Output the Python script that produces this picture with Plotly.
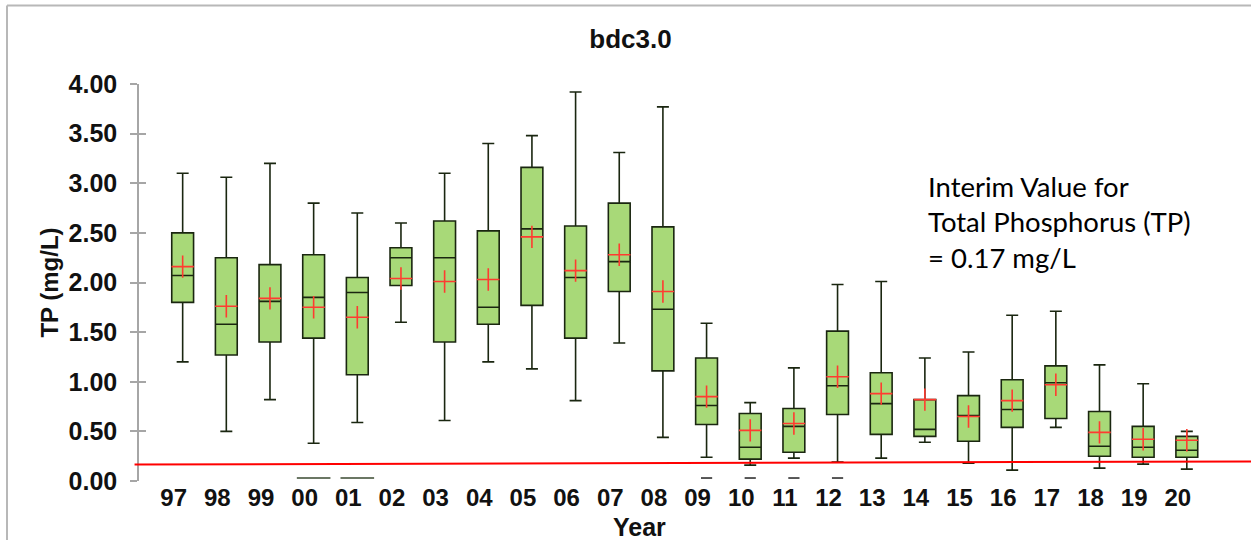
import plotly.graph_objects as go

# ---------------- data ----------------
years = ["97", "98", "99", "00", "01", "02", "03", "04", "05", "06", "07", "08",
         "09", "10", "11", "12", "13", "14", "15", "16", "17", "18", "19", "20"]
whisker_low = [1.20, 0.50, 0.82, 0.38, 0.59, 1.60, 0.61, 1.20, 1.13, 0.81, 1.39, 0.44,
               0.24, 0.16, 0.23, 0.19, 0.23, 0.39, 0.18, 0.11, 0.54, 0.13, 0.17, 0.12]
q1 = [1.80, 1.27, 1.40, 1.44, 1.07, 1.97, 1.40, 1.58, 1.77, 1.44, 1.91, 1.11,
      0.57, 0.22, 0.29, 0.67, 0.47, 0.45, 0.40, 0.54, 0.63, 0.25, 0.24, 0.24]
median = [2.07, 1.58, 1.81, 1.85, 1.90, 2.25, 2.25, 1.75, 2.54, 2.05, 2.21, 1.73,
          0.76, 0.34, 0.55, 0.96, 0.78, 0.52, 0.66, 0.72, 0.99, 0.35, 0.34, 0.31]
q3 = [2.50, 2.25, 2.18, 2.28, 2.05, 2.35, 2.62, 2.52, 3.16, 2.57, 2.80, 2.56,
      1.24, 0.68, 0.73, 1.51, 1.09, 0.82, 0.86, 1.02, 1.16, 0.70, 0.55, 0.45]
whisker_high = [3.10, 3.06, 3.20, 2.80, 2.70, 2.60, 3.10, 3.40, 3.48, 3.92, 3.31, 3.77,
                1.59, 0.79, 1.14, 1.98, 2.01, 1.24, 1.30, 1.67, 1.71, 1.17, 0.98, 0.50]
mean = [2.16, 1.76, 1.84, 1.75, 1.65, 2.04, 2.01, 2.03, 2.46, 2.12, 2.28, 1.91,
        0.85, 0.51, 0.58, 1.05, 0.88, 0.82, 0.65, 0.81, 0.97, 0.49, 0.42, 0.41]

# small marks drawn at the zero level in the original
zero_wide_years = ["00", "01"]
zero_wide_values = [0.03, 0.03]
zero_short_years = ["09", "10", "11", "12"]
zero_short_values = [0.03, 0.03, 0.03, 0.03]

interim_start = 0.165   # interim line as drawn (left end)
interim_end = 0.197     # interim line as drawn (right end)

y_ticks = [0.0, 0.5, 1.0, 1.5, 2.0, 2.5, 3.0, 3.5, 4.0]
y_tick_text = ["0.00", "0.50", "1.00", "1.50", "2.00", "2.50", "3.00", "3.50", "4.00"]

note_lines = ["Interim Value for", "Total Phosphorus (TP)", "= 0.17 mg/L"]

# ---------------- figure ----------------
BOLD_FONT = "Liberation Sans, Arial, sans-serif"

fig = go.Figure()

fig.add_trace(go.Box(
    x=years, q1=q1, median=median, q3=q3,
    lowerfence=whisker_low, upperfence=whisker_high,
    fillcolor="#a8d978", line=dict(color="#1a2610", width=1.6),
    width=0.5, whiskerwidth=0.55, boxpoints=False, showlegend=False,
    hoverinfo="skip",
))

fig.add_trace(go.Scatter(
    x=years, y=mean, mode="markers", showlegend=False, hoverinfo="skip",
    marker=dict(symbol="cross-thin", size=16, line=dict(color="#ff3b30", width=1.6)),
))

fig.add_trace(go.Scatter(
    x=zero_wide_years, y=zero_wide_values, mode="markers", showlegend=False,
    hoverinfo="skip",
    marker=dict(symbol="line-ew", size=24, line=dict(color="#3a4a30", width=1.5)),
))
fig.add_trace(go.Scatter(
    x=zero_short_years, y=zero_short_values, mode="markers", showlegend=False,
    hoverinfo="skip",
    marker=dict(symbol="line-ew", size=8, line=dict(color="#222222", width=1.5)),
))

# invisible trace to host the inner-tick overlay axis
fig.add_trace(go.Scatter(x=[years[0]], y=[None], yaxis="y2", showlegend=False,
                         hoverinfo="skip", mode="markers"))

# interim value line
fig.add_shape(type="line", xref="paper", yref="y",
              x0=-0.004, x1=1.0, y0=interim_start, y1=interim_end,
              line=dict(color="#ff0000", width=2))

# outer frame (top and left edges)
fig.add_shape(type="line", xref="paper", yref="paper",
              x0=-0.1187, x1=1.0, y0=1.198, y1=1.198,
              line=dict(color="#b8b8b8", width=2))
fig.add_shape(type="line", xref="paper", yref="paper",
              x0=-0.1187, x1=-0.1187, y0=1.198, y1=-0.16,
              line=dict(color="#b8b8b8", width=2))

# note text
note_y = [0.742, 0.653, 0.562]
for txt, yy in zip(note_lines, note_y):
    fig.add_annotation(text=txt, xref="paper", yref="paper", x=0.7077, y=yy,
                       xanchor="left", yanchor="middle", showarrow=False,
                       font=dict(family="Lato, sans-serif", size=27.5, color="#000000"))

# x axis title as annotation (off-centre in original)
fig.add_annotation(text="Year", xref="paper", yref="paper", x=0.45, y=-0.117,
                   xanchor="center", yanchor="middle", showarrow=False,
                   font=dict(family=BOLD_FONT, size=25, color="#111111", weight="bold"))

fig.update_layout(
    width=1251, height=540,
    margin=dict(l=139, r=0, t=84, b=59),
    paper_bgcolor="white", plot_bgcolor="white",
    title=dict(text="bdc3.0", x=0.504, xref="container", y=1 - 39 / 540,
               yref="container", xanchor="center", yanchor="middle",
               font=dict(family=BOLD_FONT, size=26, color="#111111", weight="bold")),
    xaxis=dict(type="category", categoryorder="array", categoryarray=years,
               range=[-1, 24.47], showgrid=False, zeroline=False, showline=False,
               ticks="", ticklabelshift=-9, ticklabelstandoff=0,
               tickfont=dict(family=BOLD_FONT, size=24, color="#111111", weight="bold")),
    yaxis=dict(range=[0, 4], tickvals=y_ticks, ticktext=y_tick_text,
               showgrid=False, zeroline=False, showline=True,
               linecolor="#a6a6a6", linewidth=1.5,
               ticks="outside", ticklen=7, tickwidth=1.5, tickcolor="#a6a6a6",
               ticklabelstandoff=8,
               tickfont=dict(family=BOLD_FONT, size=25, color="#111111", weight="bold"),
               title=dict(text="TP (mg/L)", standoff=3,
                          font=dict(family=BOLD_FONT, size=24, color="#111111",
                                    weight="bold"))),
    yaxis2=dict(range=[0, 4], overlaying="y", side="left", tickvals=y_ticks,
                showticklabels=False, showgrid=False, zeroline=False, showline=False,
                ticks="inside", ticklen=7, tickwidth=1.5, tickcolor="#a6a6a6"),
)

fig.write_html("out.html", config={"displayModeBar": False},
               post_script="document.body.style.margin='0';")
